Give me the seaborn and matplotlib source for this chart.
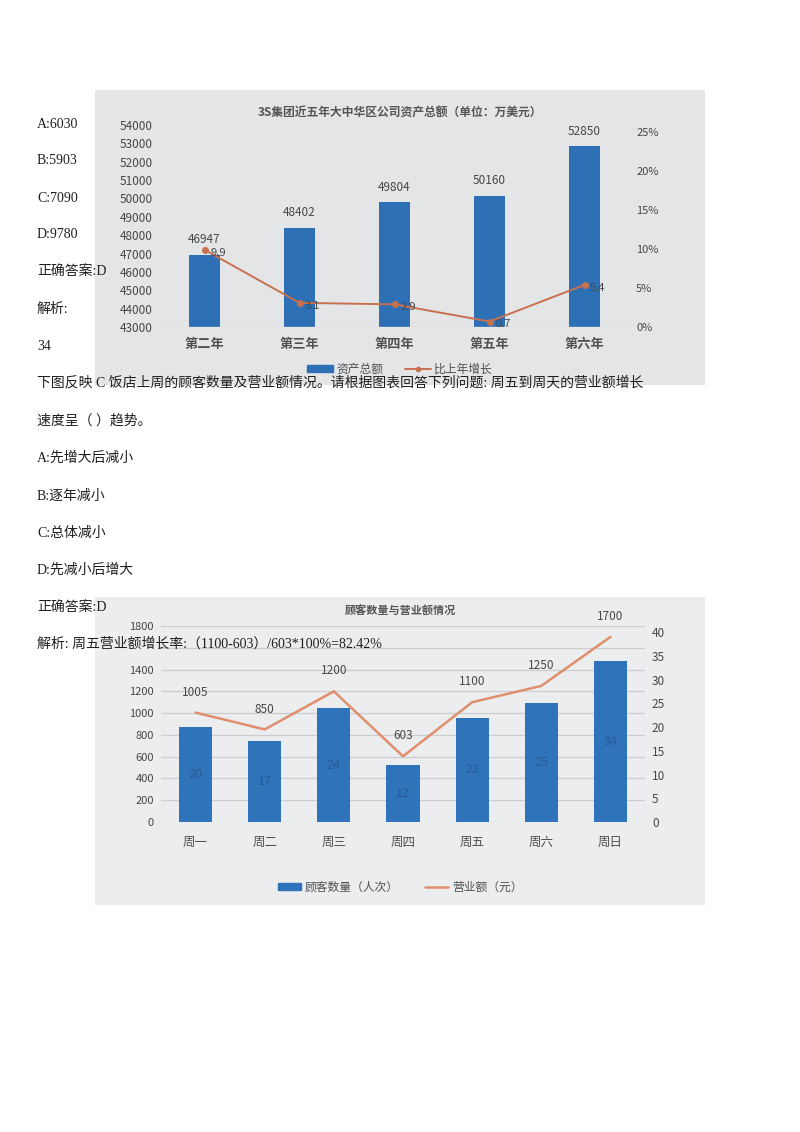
import numpy as np
import pandas as pd
import seaborn as sns
import matplotlib.pyplot as plt
from matplotlib.patches import Rectangle, Patch
from matplotlib.lines import Line2D

# chart 1 data
years = ['第二年', '第三年', '第四年', '第五年', '第六年']
assets = [46947, 48402, 49804, 50160, 52850]
growth = [9.9, 3.1, 2.9, 0.7, 5.4]
asset_ticks = list(range(43000, 55000, 1000))
growth_ticks = [0, 5, 10, 15, 20, 25]

# chart 2 data
days = ['周一', '周二', '周三', '周四', '周五', '周六', '周日']
customers = [20, 17, 24, 12, 22, 25, 34]
revenue = [1005, 850, 1200, 603, 1100, 1250, 1700]
revenue_ticks = list(range(0, 2000, 200))
customer_ticks = list(range(0, 45, 5))

# page text
page_lines = [
    'A:6030', 'B:5903', 'C:7090', 'D:9780', '正确答案:D', '解析:', '34',
    '下图反映 C 饭店上周的顾客数量及营业额情况。请根据图表回答下列问题: 周五到周天的营业额增长',
    '速度呈（ ）趋势。',
    'A:先增大后减小', 'B:逐年减小', 'C:总体减小', 'D:先减小后增大',
    '正确答案:D',
    '解析: 周五营业额增长率:（1100-603）/603*100%=82.42%',
]
page_y = [125, 161, 198, 235, 271, 309, 346, 383, 421, 458, 496, 533, 570, 607, 644]

sns.set_style("white")
plt.rcParams['font.family'] = ['Noto Sans CJK SC', 'DejaVu Sans']
plt.rcParams['axes.unicode_minus'] = False

W, H = 800, 1132
fig = plt.figure(figsize=(W / 100, H / 100), dpi=100)


def box(l, t, r, b):
    # pixel box -> figure fraction [left, bottom, width, height]
    return [l / W, 1 - b / H, (r - l) / W, (b - t) / H]


def px(x, y):
    return x / W, 1 - y / H


blue = '#2d70b6'
orange1 = '#c8704e'
orange2 = '#e08f6c'
gray_txt = '#474747'

# photo backgrounds
for (l, t, r, b), c in [((95, 90, 705, 385), '#e3e5e7'), ((95, 597, 705, 905), '#ebedee')]:
    fig.patches.append(Rectangle((l / W, 1 - b / H), (r - l) / W, (b - t) / H,
                                 transform=fig.transFigure, facecolor=c,
                                 edgecolor='none', zorder=-1))

# ---------------- chart 1 ----------------
ax1 = fig.add_axes(box(157, 125, 632, 327))
ax1.patch.set_visible(False)
sns.barplot(x=years, y=assets, ax=ax1, color=blue, saturation=1, width=0.33, linewidth=0)
ax1.bar_label(ax1.containers[0], labels=[str(v) for v in assets],
              padding=6, fontsize=8.5, color=gray_txt)
ax1.set_ylim(43000, 54000)
ax1.set_yticks(asset_ticks)
ax1.set_yticklabels([str(v) for v in asset_ticks])
ax1.axhline(43000, color='#cfd1d3', lw=1)

ax1r = ax1.twinx()
sns.pointplot(x=years, y=growth, ax=ax1r, color=orange1, markers='o',
              markersize=4, linewidth=1.4, errorbar=None)
for i, g in enumerate(growth):
    ax1r.annotate(f'{g}', (i, g), xytext=(4, -2), textcoords='offset points',
                  va='center', ha='left', fontsize=8, color=gray_txt)
ax1r.set_ylim(0, 25.9)
ax1r.set_yticks(growth_ticks)
ax1r.set_yticklabels([f'{v}%' for v in growth_ticks])

for a in (ax1, ax1r):
    a.set_xlim(-0.5, 4.5)
    a.set_xlabel('')
    a.set_ylabel('')
    for s in a.spines.values():
        s.set_visible(False)
    a.tick_params(length=0, labelsize=8.5, colors=gray_txt, pad=3)
ax1r.tick_params(labelsize=8)
ax1.set_xticks(range(len(years)))
ax1.set_xticklabels(years, fontsize=9.5, fontweight='bold', color='#505050')
ax1.tick_params(axis='x', pad=7)

fig.text(*px(400, 113), '3S集团近五年大中华区公司资产总额（单位：万美元）',
         ha='center', va='center', fontsize=8.5, fontweight='bold', color='#555555')
fig.legend([Patch(color=blue), Line2D([], [], color=orange1, marker='o', markersize=3, lw=1.4)],
           ['资产总额', '比上年增长'], loc='center', bbox_to_anchor=px(400, 369),
           ncol=2, frameon=False, fontsize=8.5, handlelength=2.2, handleheight=0.6,
           handletextpad=0.3, columnspacing=1.8, labelcolor='#505050')

# ---------------- chart 2 ----------------
ax2 = fig.add_axes(box(161, 626, 645, 822))
ax2.patch.set_visible(False)
# revenue line + grid on the left axis (underneath), customer bars on the right axis
sns.pointplot(x=days, y=revenue, ax=ax2, color=orange2, markers='o',
              markersize=0, linewidth=1.8, errorbar=None)
for i, v in enumerate(revenue):
    ax2.annotate(str(v), (i, v), xytext=(0, 10), textcoords='offset points',
                 ha='center', va='bottom', fontsize=8.5, color=gray_txt)
ax2.set_ylim(0, 1800)
ax2.set_yticks(revenue_ticks)
# the 1600 label sits under the answer text in the reference
ax2.set_yticklabels(['' if v == 1600 else str(v) for v in revenue_ticks])
ax2.grid(axis='y', color='#cbcdcf', lw=0.9)
ax2.set_axisbelow(True)

ax2r = ax2.twinx()
ax2r.patch.set_visible(False)
sns.barplot(x=days, y=customers, ax=ax2r, color='#2f74ba', saturation=1, width=0.48, linewidth=0)
ax2r.bar_label(ax2r.containers[0], labels=[str(v) for v in customers],
               label_type='center', fontsize=9, color='#2a5a98')
ax2r.set_ylim(0, 41.3)
ax2r.set_yticks(customer_ticks)
ax2r.grid(False)

for a in (ax2, ax2r):
    a.set_xlim(-0.5, 6.5)
    a.set_xlabel('')
    a.set_ylabel('')
    for s in a.spines.values():
        s.set_visible(False)
    a.tick_params(length=0, labelsize=8, colors=gray_txt, pad=5)
ax2r.tick_params(labelsize=8.5)
ax2.set_xticks(range(len(days)))
ax2.set_xticklabels(days, fontsize=9, color='#505050')
ax2.tick_params(axis='x', pad=10)

fig.text(*px(400, 611), '顾客数量与营业额情况', ha='center', va='center',
         fontsize=8, fontweight='bold', color='#555555')
fig.legend([Patch(color='#2f74ba'), Line2D([], [], color=orange2, lw=1.8)],
           ['顾客数量（人次）', '营业额（元）'], loc='center', bbox_to_anchor=px(400, 887),
           ncol=2, frameon=False, fontsize=8.5, handlelength=2.0, handleheight=0.6,
           handletextpad=0.3, columnspacing=2.2, labelcolor='#505050')

# ---------------- page text ----------------
for t, y in zip(page_lines, page_y):
    fig.text(*px(37, y), t, ha='left', va='center', fontsize=10, color='#1e1e1e',
             family=['Liberation Serif', 'Noto Sans CJK SC'], zorder=5)

fig.savefig('out.png', dpi=100)
